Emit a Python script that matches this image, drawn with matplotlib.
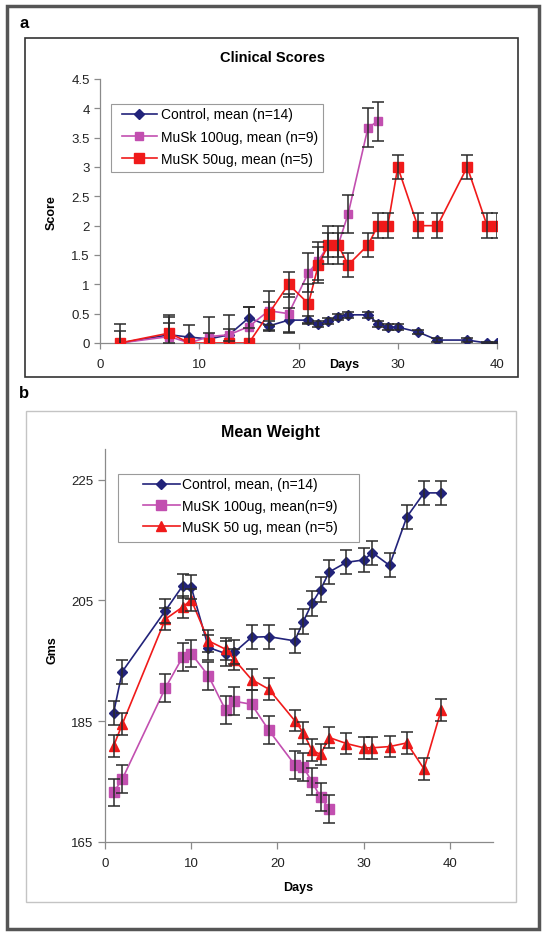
import numpy as np
import matplotlib
matplotlib.use("Agg")
import matplotlib.pyplot as plt
from matplotlib.patches import Rectangle

plt.rcParams['font.family'] = ['Liberation Sans', 'DejaVu Sans']

# ---------------- data: clinical scores (panel a) ----------------
ctl_days_a = [2, 7, 9, 11, 13, 15, 17, 19, 21, 22, 23, 24, 25, 27, 28, 29, 30, 32, 34, 37, 39, 40]
ctl_score = [0, 0.14, 0.1, 0.07, 0.14, 0.43, 0.29, 0.39, 0.39, 0.32, 0.38, 0.45, 0.48, 0.48,
             0.33, 0.27, 0.27, 0.19, 0.05, 0.05, 0, 0]
ctl_score_err = [0.33, 0.33, 0.2, 0.1, 0.1, 0.18, 0.08, 0.2, 0.07, 0.05, 0.05, 0.05, 0.05, 0.05,
                 0.05, 0.05, 0.05, 0.03, 0.03, 0.03, 0.02, 0.02]

m100_days_a = [2, 7, 9, 11, 13, 15, 17, 19, 21, 22, 23, 24, 25, 27, 28]
m100_score = [0, 0.11, 0, 0.11, 0.14, 0.28, 0.55, 0.5, 1.2, 1.4, 1.67, 1.67, 2.2, 3.67, 3.78]
m100_score_err = [np.nan, 0.33, np.nan, 0.33, 0.33, 0.33, 0.33, 0.33, 0.33, 0.33, 0.33, 0.33,
                  0.33, 0.33, 0.33]

m50_days_a = [2, 7, 9, 11, 13, 15, 17, 19, 21, 22, 23, 24, 25, 27, 28, 29, 30, 32, 34, 37, 39, 40]
m50_score = [0, 0.17, 0, 0, 0, 0, 0.5, 1.0, 0.67, 1.33, 1.67, 1.67, 1.33, 1.67, 2, 2, 3, 2, 2, 3, 2, 2]
m50_score_err = [0.2, 0.17, np.nan, np.nan, np.nan, np.nan, 0.2, 0.21, 0.33, 0.3, 0.2, 0.2, 0.21,
                 0.21, 0.21, 0.21, 0.21, 0.21, 0.21, 0.21, 0.21, 0.21]

labels_a = ["Control, mean (n=14)", "MuSk 100ug, mean (n=9)", "MuSK 50ug, mean (n=5)"]

# ---------------- data: mean weight (panel b) ----------------
ctl_days_b = [1, 2, 7, 9, 10, 12, 14, 15, 17, 19, 22, 23, 24, 25, 26, 28, 30, 31, 33, 35, 37, 39]
ctl_wt = [186.4, 193.2, 203.3, 207.4, 207.2, 197.2, 196.2, 196.4, 198.9, 199.0, 198.3, 201.5,
          204.5, 206.8, 209.7, 211.3, 211.7, 212.9, 210.8, 218.8, 222.8, 222.8]
ctl_wt_err = 2.0

m100_days_b = [1, 2, 7, 9, 10, 12, 14, 15, 17, 19, 22, 23, 24, 25, 26]
m100_wt = [173.2, 175.4, 190.5, 195.6, 196.2, 192.5, 186.8, 188.3, 187.8, 183.5, 177.8, 177.4,
           175.0, 172.4, 170.5]
m100_wt_err = 2.3

m50_days_b = [1, 2, 7, 9, 10, 12, 14, 15, 17, 19, 22, 23, 24, 25, 26, 28, 30, 31, 33, 35, 37, 39]
m50_wt = [180.9, 184.5, 201.9, 203.9, 205.1, 198.3, 196.9, 195.2, 191.9, 190.3, 185.1, 183.1,
          180.2, 179.5, 182.3, 181.3, 180.6, 180.6, 180.8, 181.4, 177.1, 186.9]
m50_wt_err = 1.8

labels_b = ["Control, mean, (n=14)", "MuSK 100ug, mean(n=9)", "MuSK 50 ug, mean (n=5)"]

navy = '#22237a'
magenta = '#c24fb0'
red = '#f01a1a'
ebc = '#2a2a2a'
axc = '#8a8a8a'

W, H = 547, 937
fig = plt.figure(figsize=(W / 100, H / 100), dpi=100)


def fx(x):
    return x / W


def fy(y):
    return 1 - y / H


def box(x0, y0, x1, y1, color, lw):
    fig.patches.append(Rectangle((fx(x0), fy(y1)), (x1 - x0) / W, (y1 - y0) / H,
                                 transform=fig.transFigure, fill=False, ec=color, lw=lw))


box(7, 7, 539, 930, '#555555', 2.5)
box(25, 39, 518, 378, '#333333', 1.2)
box(26, 412, 516, 903, '#c4c4c4', 1.0)
# legend frames (Excel style, wide side padding)
box(111, 105, 323, 173, '#9a9a9a', 0.8)
box(118, 475, 359, 543, '#9a9a9a', 0.8)
fig.text(fx(24), fy(24), "a", fontsize=12, fontweight='bold', ha='center', va='center')
fig.text(fx(24), fy(394), "b", fontsize=12, fontweight='bold', ha='center', va='center')


def style(ax):
    for s in ['top', 'right']:
        ax.spines[s].set_visible(False)
    for s in ['left', 'bottom']:
        ax.spines[s].set_color(axc)
        ax.spines[s].set_linewidth(0.9)
    ax.tick_params(direction='out', color=axc, length=4, width=0.9, labelsize=9.5,
                   labelcolor='#222222')


def series(ax, d, v, e, color, marker, ms, label):
    ax.plot(d, v, color=color, marker=marker, ms=ms, lw=1.2, mec=color, mfc=color,
            label=label, zorder=3)
    ax.errorbar(d, v, yerr=e, fmt='none', ecolor=ebc, elinewidth=1.1, capsize=4.3,
                capthick=1.1, zorder=4)


# ---------------- panel a ----------------
ax1 = fig.add_axes([fx(100), fy(344), 397 / W, 264 / H])
style(ax1)
series(ax1, ctl_days_a, ctl_score, ctl_score_err, navy, 'D', 5, labels_a[0])
series(ax1, m100_days_a, m100_score, m100_score_err, magenta, 's', 6, labels_a[1])
series(ax1, m50_days_a, m50_score, m50_score_err, red, 's', 7, labels_a[2])
ax1.set_xlim(0, 40)
ax1.set_ylim(0, 4.5)
ax1.set_xticks(range(0, 41, 10))
ax1.set_yticks(np.arange(0, 4.51, 0.5))
ax1.set_yticklabels(['0', '0.5', '1', '1.5', '2', '2.5', '3', '3.5', '4', '4.5'])
ax1.tick_params(axis='x', pad=7)
fig.text(fx(272), fy(58), "Clinical Scores", fontsize=10.5, fontweight='bold',
         ha='center', va='center')
fig.text(fx(52), fy(213), "Score", fontsize=9, fontweight='bold', rotation=90,
         ha='center', va='center')
fig.text(fx(344), fy(365), "Days", fontsize=9, fontweight='bold', ha='center', va='center')
ax1.legend(loc='upper left', bbox_to_anchor=(fx(122), fy(108.5)),
           bbox_transform=fig.transFigure, borderaxespad=0, borderpad=0, fontsize=10,
           frameon=False, handlelength=2.5, handletextpad=0.3, labelspacing=0.6)

# ---------------- panel b ----------------
ax2 = fig.add_axes([fx(105), fy(843), 388 / W, (843 - 450.4) / H])
style(ax2)
ax2.tick_params(length=5)
series(ax2, ctl_days_b, ctl_wt, ctl_wt_err, navy, 'D', 5, labels_b[0])
series(ax2, m100_days_b, m100_wt, m100_wt_err, magenta, 's', 6.5, labels_b[1])
series(ax2, m50_days_b, m50_wt, m50_wt_err, red, '^', 7, labels_b[2])
ax2.set_xlim(0, 45)
ax2.set_ylim(165, 230)
ax2.set_xticks(range(0, 41, 10))
ax2.set_yticks([165, 185, 205, 225])
ax2.tick_params(axis='x', pad=6)
fig.text(fx(270), fy(433), "Mean Weight", fontsize=11.5, fontweight='bold',
         ha='center', va='center')
fig.text(fx(53), fy(650), "Gms", fontsize=9, fontweight='bold', rotation=90,
         ha='center', va='center')
fig.text(fx(298), fy(888), "Days", fontsize=9, fontweight='bold', ha='center', va='center')
ax2.legend(loc='upper left', bbox_to_anchor=(fx(143), fy(478.5)),
           bbox_transform=fig.transFigure, borderaxespad=0, borderpad=0, fontsize=10,
           frameon=False, handlelength=2.65, handletextpad=0.15, labelspacing=0.53)

fig.savefig("out.png", dpi=100)
